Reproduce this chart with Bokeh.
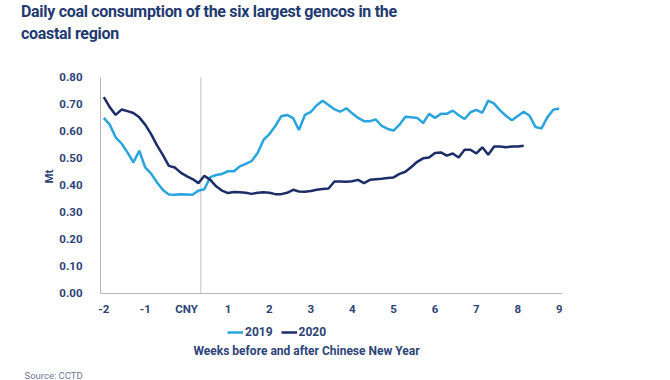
import math
from bokeh.plotting import figure
from bokeh.models import (Label, Legend, LegendItem, FixedTicker, Div,
                          NumeralTickFormatter, Range1d)
from bokeh.layouts import column
from bokeh.embed import file_html
from bokeh.resources import INLINE

# ---- data (days relative to Chinese New Year) ----
days_2019 = list(range(-14, 64))
coal_2019 = [0.650, 0.625, 0.578, 0.555, 0.522, 0.485, 0.528, 0.466, 0.443, 0.410,
             0.382, 0.366, 0.365, 0.367, 0.366, 0.365, 0.380, 0.385, 0.430, 0.438,
             0.442, 0.452, 0.452, 0.470, 0.479, 0.490, 0.520, 0.568, 0.590, 0.620,
             0.656, 0.661, 0.649, 0.605, 0.661, 0.672, 0.697, 0.714, 0.698, 0.682,
             0.673, 0.686, 0.667, 0.650, 0.638, 0.638, 0.644, 0.620, 0.609, 0.603,
             0.625, 0.654, 0.652, 0.650, 0.631, 0.665, 0.650, 0.665, 0.665, 0.677,
             0.660, 0.646, 0.671, 0.680, 0.669, 0.714, 0.703, 0.678, 0.658, 0.641,
             0.657, 0.673, 0.658, 0.616, 0.611, 0.652, 0.680, 0.685]

days_2020 = list(range(-14, 58))
coal_2020 = [0.727, 0.690, 0.661, 0.681, 0.675, 0.668, 0.652, 0.625, 0.590, 0.548,
             0.512, 0.472, 0.466, 0.447, 0.434, 0.423, 0.408, 0.435, 0.420, 0.396,
             0.380, 0.371, 0.375, 0.374, 0.372, 0.368, 0.372, 0.374, 0.372, 0.367,
             0.367, 0.372, 0.383, 0.377, 0.376, 0.379, 0.383, 0.386, 0.388, 0.414,
             0.414, 0.413, 0.415, 0.420, 0.408, 0.420, 0.422, 0.424, 0.427, 0.429,
             0.442, 0.450, 0.468, 0.487, 0.500, 0.503, 0.520, 0.522, 0.510, 0.518,
             0.503, 0.532, 0.532, 0.518, 0.541, 0.513, 0.544, 0.544, 0.541, 0.544,
             0.544, 0.547]

week_ticks = [-14, -7, 0, 7, 14, 21, 28, 35, 42, 49, 56, 63]
week_labels = ["-2", "-1", "CNY", "1", "2", "3", "4", "5", "6", "7", "8", "9"]
y_ticks = [0.0, 0.1, 0.2, 0.3, 0.4, 0.5, 0.6, 0.7, 0.8]
y_min, y_max = 0.0, 0.8
x_axis_start, x_axis_end = -14.56, 63.56
cny_marker_day = 2.4

LIGHT = "#29a4dd"
DARK = "#1c2d68"
NAVY = "#1f3a70"
LABEL = "#2c4478"
AXIS = "#b5b5b5"
FONT = "Roboto"

title = Div(text="Daily coal consumption of the six largest gencos in the<br>coastal region",
            width=670, height=50, margin=(0, 0, 0, 0),
            styles={"font-family": FONT, "font-size": "16px", "font-weight": "bold",
                    "color": NAVY, "line-height": "21.7px", "padding-top": "1px",
                    "padding-left": "21px", "letter-spacing": "-0.3px",
                    "box-sizing": "border-box"})

# the frame is larger than the axes so that the legend and the unit label fit in it
p = figure(width=670, height=330, output_backend="svg", toolbar_location=None,
           x_range=Range1d(-24.705, x_axis_end), y_range=Range1d(-0.232, 0.8371),
           min_border_left=40, min_border_right=108, min_border_top=17,
           min_border_bottom=0, margin=(0, 0, 0, 0))
p.outline_line_color = None
p.grid.visible = False
p.background_fill_color = "white"
p.border_fill_color = "white"

# axes
p.xaxis.ticker = FixedTicker(ticks=week_ticks)
p.xaxis.major_label_overrides = {t: l for t, l in zip(week_ticks, week_labels)}
p.xaxis.fixed_location = y_min
p.xaxis.bounds = (x_axis_start, x_axis_end)
p.yaxis.ticker = FixedTicker(ticks=y_ticks)
p.yaxis.formatter = NumeralTickFormatter(format="0.00")
p.yaxis.fixed_location = x_axis_start
p.yaxis.bounds = (y_min, y_max)
for ax in (p.xaxis, p.yaxis):
    ax.axis_line_color = AXIS
    ax.axis_line_width = 1
    ax.major_tick_line_color = None
    ax.minor_tick_line_color = None
    ax.major_label_text_font = FONT
    ax.major_label_text_font_style = "bold"
    ax.major_label_text_font_size = "11.5px"
    ax.major_label_text_color = LABEL
p.xaxis.major_label_standoff = 3
p.yaxis.major_label_standoff = 12

# unit label
p.add_layout(Label(x=8, y=179, x_units="screen", y_units="screen", text="Mt",
                   angle=math.pi / 2, text_font=FONT, text_font_style="bold",
                   text_font_size="11.5px", text_color=LABEL,
                   text_align="center", text_baseline="middle"))

# CNY marker line (from the x axis to the top of the range)
p.segment(x0=[cny_marker_day], y0=[y_min], x1=[cny_marker_day], y1=[y_max],
          line_color="#c4c4c4", line_width=1)

r19 = p.line(days_2019, coal_2019, line_color=LIGHT, line_width=2.5)
r20 = p.line(days_2020, coal_2020, line_color=DARK, line_width=2.5)

legend = Legend(items=[LegendItem(label="2019", renderers=[r19]),
                       LegendItem(label="2020", renderers=[r20])],
                location=(187, 16), orientation="horizontal",
                border_line_color=None, background_fill_alpha=0,
                padding=0, margin=0, spacing=8, glyph_width=16, glyph_height=12,
                label_height=12, label_standoff=2,
                label_text_font=FONT, label_text_font_style="bold",
                label_text_font_size="12px", label_text_color=LABEL)
p.add_layout(legend)

# texts below the frame live in the bottom side panel
p.add_layout(Label(x=153, y=19, x_units="screen", y_units="screen",
                   text="Weeks before and after Chinese New Year",
                   text_font=FONT, text_font_style="bold", text_font_size="12px",
                   text_color=LABEL, text_baseline="middle", text_align="left"), "below")
p.add_layout(Label(x=-16, y=0, x_units="screen", y_units="screen",
                   text="Source: CCTD",
                   text_font=FONT, text_font_size="9.5px",
                   text_color="#6d7c9c", text_baseline="bottom", text_align="left"), "below")

open("out.html", "w").write(file_html(column(title, p, spacing=0), INLINE))
